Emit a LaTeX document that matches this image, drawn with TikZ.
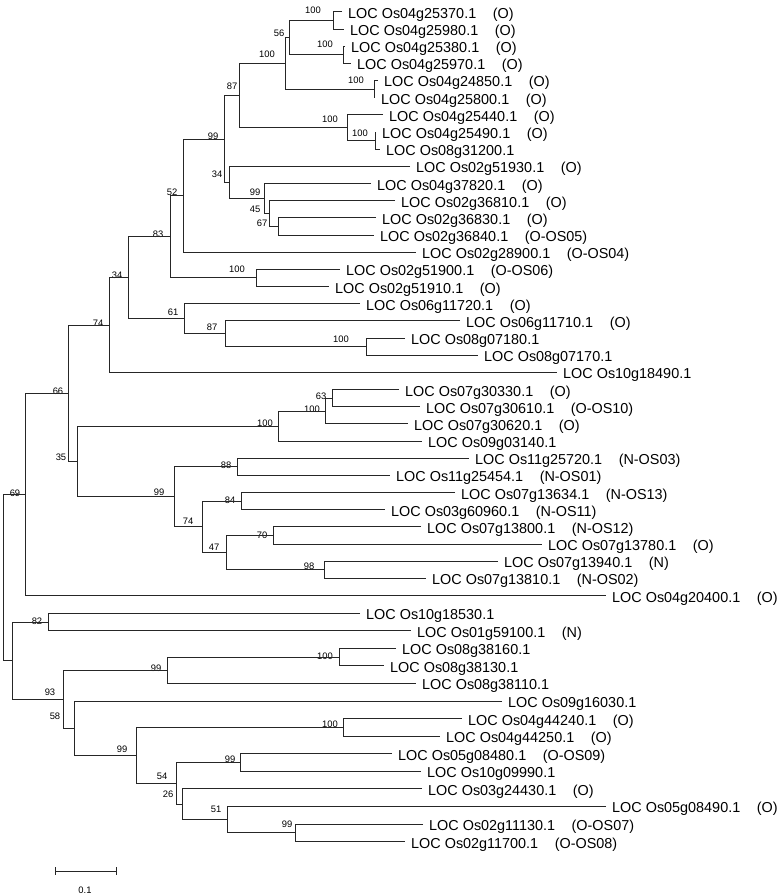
\documentclass[tikz,border=0pt]{standalone}
\usepackage{fontspec}
\setmainfont{Liberation Sans}
\usetikzlibrary{calc}
\newcommand{\grp}[1]{\hspace{1.15em}(#1)}

\begin{document}
\begin{tikzpicture}[x=1pt, y=-1pt,
  branch/.style={draw=black!85, line width=0.9pt},
  leaf/.style={anchor=base west, inner sep=0pt, xshift=6pt, yshift=-6.5pt, font=\fontsize{14.4}{16}\selectfont},
  boot/.style={inner sep=0pt, font=\fontsize{9.4}{10}\selectfont}]
\useasboundingbox (0,0) rectangle (778,896);
% leaves
\foreach \i/\px/\t in {1/342/{LOC Os04g25370.1\grp{O}}, 2/344/{LOC Os04g25980.1\grp{O}},
  3/345/{LOC Os04g25380.1\grp{O}}, 4/351/{LOC Os04g25970.1\grp{O}},
  5/378/{LOC Os04g24850.1\grp{O}}, 6/375/{LOC Os04g25800.1\grp{O}},
  7/383/{LOC Os04g25440.1\grp{O}}, 8/376/{LOC Os04g25490.1\grp{O}},
  9/380/{LOC Os08g31200.1}, 10/410/{LOC Os02g51930.1\grp{O}},
  11/371/{LOC Os04g37820.1\grp{O}}, 12/395/{LOC Os02g36810.1\grp{O}},
  13/376/{LOC Os02g36830.1\grp{O}}, 14/374/{LOC Os02g36840.1\grp{O-OS05}},
  15/416/{LOC Os02g28900.1\grp{O-OS04}}, 16/340/{LOC Os02g51900.1\grp{O-OS06}},
  17/329/{LOC Os02g51910.1\grp{O}}, 18/360/{LOC Os06g11720.1\grp{O}},
  19/460/{LOC Os06g11710.1\grp{O}}, 20/405/{LOC Os08g07180.1},
  21/478/{LOC Os08g07170.1}, 22/557/{LOC Os10g18490.1},
  23/399/{LOC Os07g30330.1\grp{O}}, 24/420/{LOC Os07g30610.1\grp{O-OS10}},
  25/408/{LOC Os07g30620.1\grp{O}}, 26/422/{LOC Os09g03140.1},
  27/469/{LOC Os11g25720.1\grp{N-OS03}}, 28/390/{LOC Os11g25454.1\grp{N-OS01}},
  29/455/{LOC Os07g13634.1\grp{N-OS13}}, 30/385/{LOC Os03g60960.1\grp{N-OS11}},
  31/421/{LOC Os07g13800.1\grp{N-OS12}}, 32/542/{LOC Os07g13780.1\grp{O}},
  33/498/{LOC Os07g13940.1\grp{N}}, 34/426/{LOC Os07g13810.1\grp{N-OS02}},
  35/606/{LOC Os04g20400.1\grp{O}}, 36/360/{LOC Os10g18530.1},
  37/411/{LOC Os01g59100.1\grp{N}}, 38/396/{LOC Os08g38160.1},
  39/384/{LOC Os08g38130.1}, 40/416/{LOC Os08g38110.1},
  41/502/{LOC Os09g16030.1}, 42/462/{LOC Os04g44240.1\grp{O}},
  43/440/{LOC Os04g44250.1\grp{O}}, 44/392/{LOC Os05g08480.1\grp{O-OS09}},
  45/421/{LOC Os10g09990.1}, 46/422/{LOC Os03g24430.1\grp{O}},
  47/606/{LOC Os05g08490.1\grp{O}}, 48/423/{LOC Os02g11130.1\grp{O-OS07}},
  49/405/{LOC Os02g11700.1\grp{O-OS08}}} {
  \pgfmathsetmacro\py{\i<36 ? 11.8+17.17*(\i-1) : 595.6+17.57*(\i-35)}
  \coordinate (l\i) at (\px,\py);
  \node[leaf] (t\i) at (l\i) {\t};
}
% clades, listed from the tips down to the root
\foreach \n/\px/\a/\b/\v/\lx/\ly in {c1/333/l1/l2/100/313/10, c2/343/l3/l4/100/325/44,
  c3/289/c1/c2/56/279/33, c4/374/l5/l6/100/356/80, c5/285/c3/c4/100/267/54,
  c6/375/l8/l9/100/360/133, c7/347/l7/c6/100/330/119, c8/239/c5/c7/87/232/86,
  c9/278/l13/l14/67/262/223, c10/269/l12/c9/45/255/209, c11/264/l11/c10/99/255/192,
  c12/229/l10/c11/34/217/174, c13/224/c8/c12/99/213/136, c14/183/c13/l15/52/172/192,
  c15/256/l16/l17/100/237/269, c16/170/c14/c15/83/158/234, c17/366/l20/l21/100/341/339,
  c18/225/l19/c17/87/212/327, c19/184/l18/c18/61/173/312, c20/128/c16/c19/34/117/275,
  c21/109/c20/l22/74/98/323, c22/332/l23/l24/63/321/396, c23/325/c22/l25/100/312/409,
  c24/278/c23/l26/100/265/423, c25/237/l27/l28/88/226/465, c26/241/l29/l30/84/230/500,
  c27/273/l31/l32/70/262/535, c28/324/l33/l34/98/309/566, c29/226/c27/c28/47/214/547,
  c30/202/c26/c29/74/188/521, c31/174/c25/c30/99/159/492, c32/77/c24/c31/35/61/457,
  c33/68/c21/c32/66/58/391, c34/25/c33/l35/69/15/493,
  c35/48/l36/l37/82/37/621, c36/339/l38/l39/100/325/656, c37/167/c36/l40/99/156/668,
  c38/343/l42/l43/100/330/724, c39/240/l44/l45/99/230/759, c40/295/l48/l49/99/287/824,
  c41/227/l47/c40/51/216/809, c42/182/l46/c41/26/168/794, c43/176/c39/c42/54/162/776,
  c44/136/c38/c43/99/122/749, c45/74/l41/c44/58/55/716, c46/63/c37/c45/93/50/692} {
  \coordinate (m) at ($(\a)!0.5!(\b)$);
  \coordinate (hx) at (\px,0);
  \coordinate (\n) at (hx |- m);
  \draw[branch] (\a) -- (\n |- \a) -- (\n |- \b) -- (\b);
  \node[boot] (b\n) at (\lx,\ly) {\v};
}
% the two deepest splits carry no value
\foreach \n/\px/\a/\b in {c47/12/c35/c46, root/3/c34/c47} {
  \coordinate (m) at ($(\a)!0.5!(\b)$);
  \coordinate (hx) at (\px,0);
  \coordinate (\n) at (hx |- m);
  \draw[branch] (\a) -- (\n |- \a) -- (\n |- \b) -- (\b);
}
% scale bar
\coordinate (s0) at (55,871);
\coordinate (s1) at (116,871);
\draw[branch] (s0) -- (s1);
\draw[branch] ($(s0)+(0,-4)$) -- ($(s0)+(0,4)$);
\draw[branch] ($(s1)+(0,-4)$) -- ($(s1)+(0,4)$);
\node[boot] (sl) at (85,890) {0.1};
\end{tikzpicture}
\end{document}
